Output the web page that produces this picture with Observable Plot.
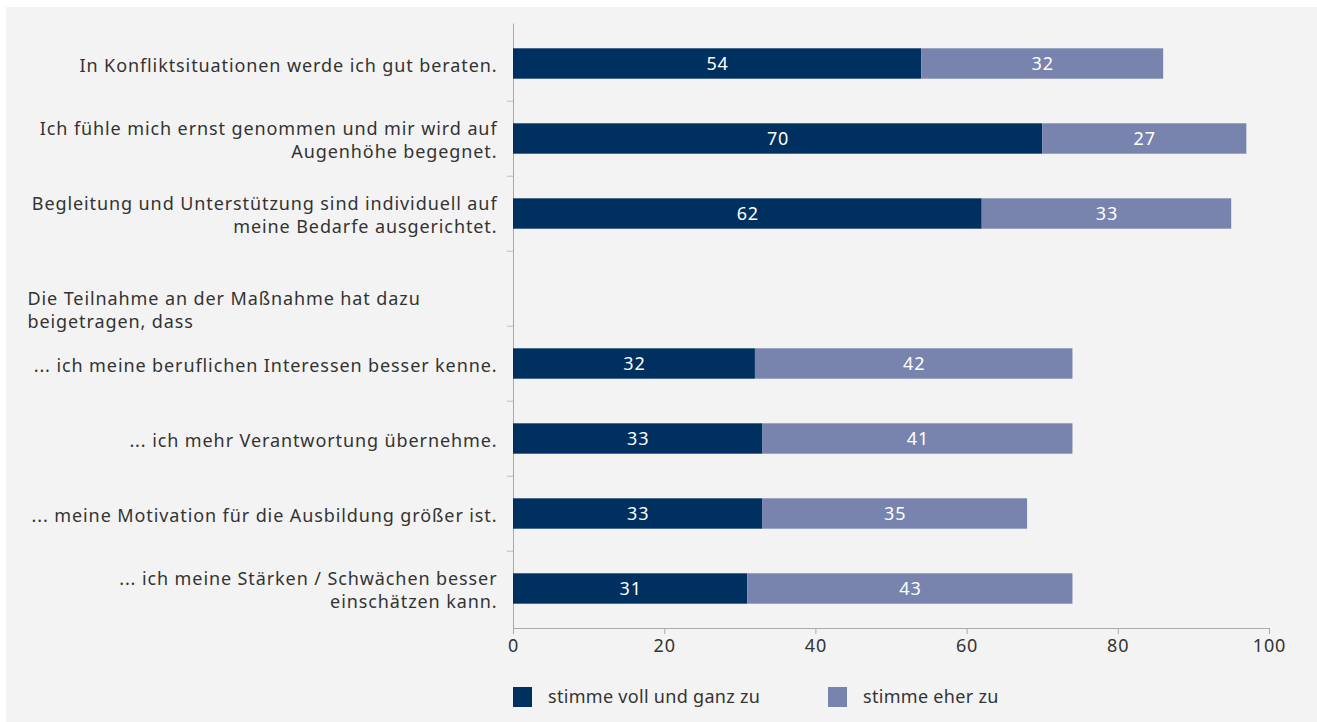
<!DOCTYPE html>
<html><head><meta charset="utf-8">
<script src="https://cdn.jsdelivr.net/npm/d3@7"></script>
<script src="https://cdn.jsdelivr.net/npm/@observablehq/plot@0.6"></script>
<style>
body{margin:0;background:#fff;}
#wrap{position:absolute;left:6px;top:7px;width:1311px;height:715px;background:#f3f3f3;font-family:"Noto Sans",sans-serif;color:#333;}
#legend{position:absolute;left:0;top:680px;width:1311px;height:20px;font-size:18px;letter-spacing:0.3px;color:#333;}
.sw{position:absolute;top:0;width:19px;height:20px;}
.lt{position:absolute;top:-3px;line-height:24px;white-space:nowrap;}
</style></head>
<body><div id="wrap"><div id="chart"></div><div id="legend"></div></div>
<script>
const categories = [
  "In Konfliktsituationen werde ich gut beraten.",
  "Ich fühle mich ernst genommen und mir wird auf\nAugenhöhe begegnet.",
  "Begleitung und Unterstützung sind individuell auf\nmeine Bedarfe ausgerichtet.",
  "Die Teilnahme an der Maßnahme hat dazu\nbeigetragen, dass",
  "... ich meine beruflichen Interessen besser kenne.",
  "... ich mehr Verantwortung übernehme.",
  "... meine Motivation für die Ausbildung größer ist.",
  "... ich meine Stärken / Schwächen besser\neinschätzen kann."
];
const headerIndex = 3;
const series = ["stimme voll und ganz zu", "stimme eher zu"];
const colors = ["#00305f", "#7884ae"];
const voll = [54, 70, 62, null, 32, 33, 33, 31];
const eher = [32, 27, 33, null, 42, 41, 35, 43];
const xTicks = [0, 20, 40, 60, 80, 100];

const rows = [];
categories.forEach((c, i) => {
  if (voll[i] != null) rows.push({q: c, series: series[0], value: voll[i]});
  if (eher[i] != null) rows.push({q: c, series: series[1], value: eher[i]});
});
const statements = categories.filter((c, i) => i !== headerIndex);
const header = [categories[headerIndex]];

const H = 660, mt = 16.5, mb = 39;
const bw = (H - mt - mb) / categories.length;

const chart = Plot.plot({
  width: 1311, height: H,
  marginLeft: 507, marginRight: 48, marginTop: mt, marginBottom: mb,
  style: {background: "transparent", fontFamily: "Noto Sans, sans-serif", color: "#333"},
  x: {domain: [0, 100], ticks: xTicks, label: null},
  y: {domain: categories, padding: 0, axis: null},
  color: {domain: series, range: colors},
  marks: [
    Plot.axisX({ticks: xTicks, tickSize: 6, tickPadding: 5, fontSize: 18, stroke: "#aaa", fill: "#333", label: null, className: "spaced"}),
    Plot.frame({anchor: "bottom", stroke: "#aaa"}),
    Plot.ruleX([0], {stroke: "#aaa"}),
    Plot.ruleY(categories.slice(1), {y: d => d, x1: -0.8, x2: 0, dy: -bw / 2, stroke: "#bbb"}),
    Plot.barX(rows, Plot.stackX({x: "value", y: "q", fill: "series", order: series, insetTop: 22.3, insetBottom: 22.3})),
    Plot.text(rows, Plot.stackX({x: "value", y: "q", z: "series", order: series, text: d => String(d.value), fill: "white", fontSize: 18, className: "spaced"})),
    Plot.text(statements, {y: d => d, x: () => 0, text: d => d, dx: -16, textAnchor: "end", fontSize: 18, fill: "#333", lineHeight: 1.3, className: "spaced"}),
    Plot.text(header, {y: d => d, frameAnchor: "left", text: d => d, dx: -486, dy: 20, textAnchor: "start", fontSize: 18, fill: "#333", lineHeight: 1.3, className: "spaced"})
  ]
});
d3.select(chart).selectAll(".spaced").style("letter-spacing", "0.9px");
document.getElementById("chart").appendChild(chart);

const legend = document.getElementById("legend");
const swX = [507, 822], txtX = [542, 857];
series.forEach((s, i) => {
  const sw = document.createElement("span");
  sw.className = "sw"; sw.style.background = colors[i]; sw.style.left = swX[i] + "px";
  legend.appendChild(sw);
  const t = document.createElement("span");
  t.className = "lt"; t.style.left = txtX[i] + "px"; t.textContent = s;
  legend.appendChild(t);
});
</script></body></html>
